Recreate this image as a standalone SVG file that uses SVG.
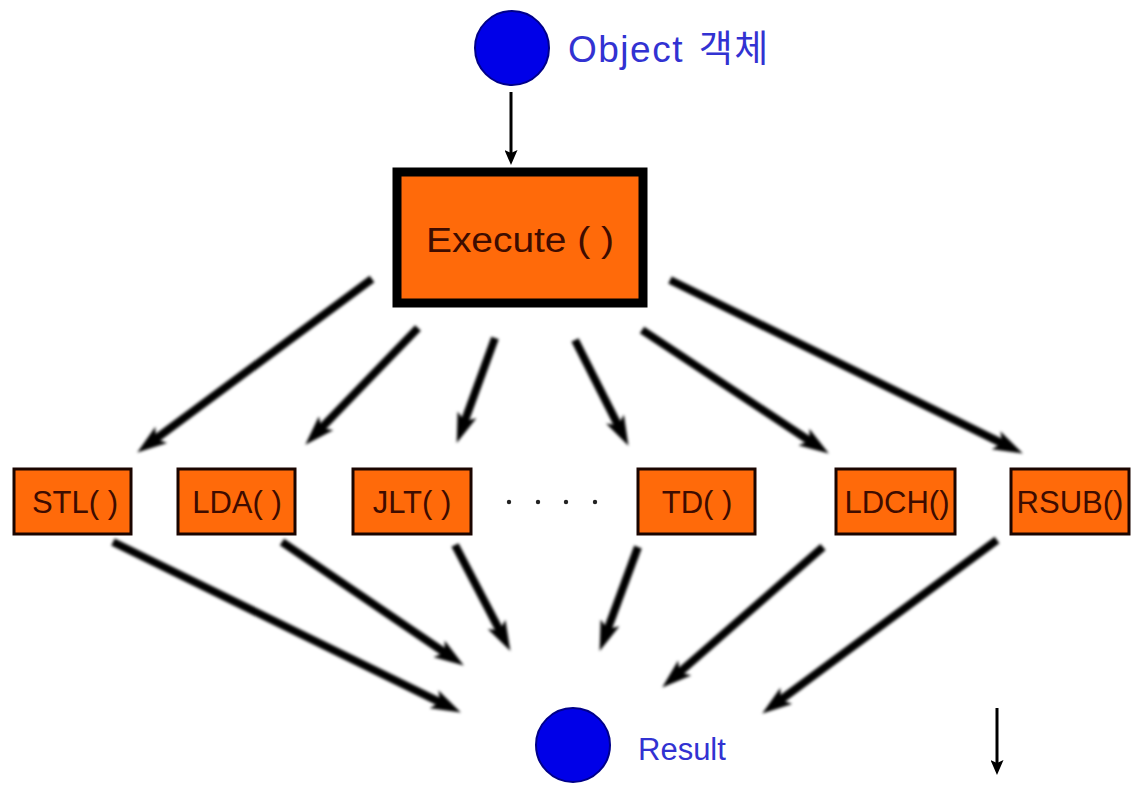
<svg xmlns="http://www.w3.org/2000/svg" width="1131" height="785" viewBox="0 0 1131 785">
  <style>
    .circle { fill: #0000e8; stroke: #00008a; stroke-width: 2; }
    .blue-label { font-family: "Liberation Sans", "Noto Sans CJK KR", sans-serif; fill: #3232d2; }
    .box { fill: #ff6a0a; stroke: #1a0500; }
    .box-label { font-family: "Liberation Sans", Arial, sans-serif; fill: #3e0c00; text-anchor: middle; }
    .thick { stroke: #000; stroke-width: 8; fill: none; marker-end: url(#head); }
    .thin { stroke: #000; stroke-width: 3; fill: none; marker-end: url(#headSmall); }
    .dot { fill: #222; }
  </style>
  <defs>
    <marker id="head" markerUnits="userSpaceOnUse" viewBox="0 0 30 20" refX="11" refY="10" markerWidth="30" markerHeight="20" orient="auto">
      <path d="M0,0 L30,10 L0,20 L7,10 Z" fill="#000"/>
    </marker>
    <marker id="headSmall" markerUnits="userSpaceOnUse" viewBox="0 0 15 13" refX="4" refY="6.5" markerWidth="15" markerHeight="13" orient="auto">
      <path d="M0,0 L15,6.5 L0,13 L3,6.5 Z" fill="#000"/>
    </marker>
    <filter id="soft" x="-10%" y="-10%" width="120%" height="120%">
      <feGaussianBlur stdDeviation="1.4"/>
    </filter>
  </defs>

  <rect x="0" y="0" width="1131" height="785" fill="#fff"/>

  <!-- connectors -->
  <g id="connectors">
    <line class="thin" x1="511" y1="92" x2="511" y2="154"/>
    <line class="thin" x1="997" y1="708" x2="997" y2="764"/>
    <g filter="url(#soft)">
      <!-- Execute to operations -->
      <line class="thick" x1="372" y1="279" x2="152.5" y2="441.3"/>
      <line class="thick" x1="418" y1="328" x2="318.5" y2="431"/>
      <line class="thick" x1="495" y1="338" x2="463.2" y2="425.1"/>
      <line class="thick" x1="575" y1="340" x2="619.9" y2="428.9"/>
      <line class="thick" x1="642" y1="330" x2="813" y2="443.1"/>
      <line class="thick" x1="670" y1="280" x2="1005.8" y2="445.1"/>
      <!-- operations to Result -->
      <line class="thick" x1="113" y1="542" x2="443.8" y2="704.1"/>
      <line class="thick" x1="282" y1="542" x2="448.1" y2="654.9"/>
      <line class="thick" x1="455" y1="545" x2="501.6" y2="634.1"/>
      <line class="thick" x1="638" y1="547" x2="606.2" y2="633.1"/>
      <line class="thick" x1="823" y1="547" x2="676.5" y2="675.1"/>
      <line class="thick" x1="997" y1="540" x2="777.5" y2="702.3"/>
    </g>
  </g>

  <g id="object">
    <circle class="circle" cx="512" cy="48" r="37"/>
    <text class="blue-label" x="568" y="62" font-size="37" letter-spacing="1.5" word-spacing="3">Object 객체</text>
  </g>

  <g id="execute">
    <rect class="box" x="397" y="172" width="246" height="131" stroke-width="9" style="stroke:#000"/>
    <text class="box-label" x="520" y="252" font-size="35" textLength="188" lengthAdjust="spacingAndGlyphs">Execute ( )</text>
  </g>

  <g id="stl">
    <rect class="box" x="14" y="469" width="117" height="65" stroke-width="3"/>
    <text class="box-label" x="75" y="513" font-size="31">STL( )</text>
  </g>
  <g id="lda">
    <rect class="box" x="178" y="469" width="117" height="65" stroke-width="3"/>
    <text class="box-label" x="237" y="513" font-size="31">LDA( )</text>
  </g>
  <g id="jlt">
    <rect class="box" x="353" y="469" width="118" height="65" stroke-width="3"/>
    <text class="box-label" x="412" y="513" font-size="31">JLT( )</text>
  </g>
  <g id="ellipsis">
    <circle class="dot" cx="509" cy="502" r="2.2"/>
    <circle class="dot" cx="538" cy="502" r="2.2"/>
    <circle class="dot" cx="566" cy="502" r="2.2"/>
    <circle class="dot" cx="595" cy="502" r="2.2"/>
  </g>
  <g id="td">
    <rect class="box" x="638" y="469" width="117" height="65" stroke-width="3"/>
    <text class="box-label" x="697" y="513" font-size="31">TD( )</text>
  </g>
  <g id="ldch">
    <rect class="box" x="836" y="469" width="119" height="65" stroke-width="3"/>
    <text class="box-label" x="897" y="513" font-size="31">LDCH()</text>
  </g>
  <g id="rsub">
    <rect class="box" x="1011" y="469" width="118" height="65" stroke-width="3"/>
    <text class="box-label" x="1070" y="513" font-size="31">RSUB()</text>
  </g>

  <g id="result">
    <circle class="circle" cx="573" cy="745" r="37"/>
    <text class="blue-label" x="638" y="760" font-size="31">Result</text>
  </g>
</svg>
